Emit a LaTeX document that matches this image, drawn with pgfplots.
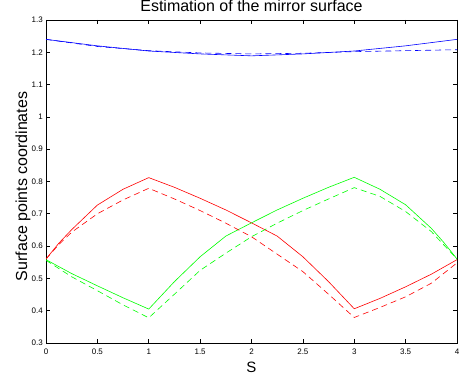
\documentclass[border=0pt]{standalone}
\usepackage{pgfplots}
\pgfplotsset{compat=1.18}
\usetikzlibrary{calc}
\usepackage{fontspec}
\setmainfont{Liberation Sans}
\definecolor{mred}{rgb}{1,0,0}
\definecolor{mgreen}{rgb}{0,1,0}
\definecolor{mblue}{rgb}{0,0,1}
\begin{document}
\begin{tikzpicture}
\begin{axis}[
  scale only axis,
  width=411bp, height=323bp,
  at={(0,0)}, anchor=south west,
  xmin=0, xmax=4, ymin=0.3, ymax=1.3,
  xtick={0,0.5,...,4},
  ytick={0.3,0.4,0.5,0.6,0.7,0.8,0.9,1,1.1,1.2,1.3},
  tick align=inside,
  xtick pos=both, ytick pos=both,
  xticklabel pos=bottom, yticklabel pos=left,
  major tick length=4bp,
  tick style={black, line width=0.6bp},
  axis line style={black, line width=0.8bp},
  /pgf/number format/assume math mode=true,
  /pgf/number format/fixed,
  ticklabel style={font=\fontsize{8bp}{9bp}\selectfont, inner sep=0pt},
  xticklabel style={anchor=north, yshift=-6bp},
  yticklabel style={anchor=east, xshift=-3bp},
  every axis title shift=0pt,
  title={Estimation of the mirror surface},
  title style={at={(axis description cs:0.5,1)}, anchor=base, yshift=8.5bp, font=\fontsize{16bp}{18bp}\selectfont, inner sep=0pt},
  xlabel={S},
  xlabel style={at={(axis description cs:0.5,0)}, anchor=base, yshift=-29bp, font=\fontsize{15bp}{17bp}\selectfont, inner sep=0pt},
  ylabel={Surface points coordinates},
  every axis y label/.style={at={($(axis description cs:0,0.4845)+(-19bp,0)$)}, anchor=base, rotate=90, font=\fontsize{16bp}{18bp}\selectfont, inner sep=0pt},
  clip=true,
]
% blue solid
\addplot[mblue, line width=0.6bp] coordinates {
(0,1.240) (0.5,1.220) (1,1.204) (1.5,1.195) (2,1.189) (2.5,1.195) (3,1.204) (3.5,1.220) (4,1.240)};
% red solid
\addplot[mred, line width=0.6bp] coordinates {
(0,0.560) (0.125,0.609) (0.25,0.651) (0.5,0.727) (0.75,0.776) (1,0.812)
(1.25,0.782) (1.5,0.748) (1.75,0.712) (2,0.672)
(2.25,0.631) (2.5,0.567) (2.75,0.490) (3,0.406)
(3.25,0.438) (3.5,0.474) (3.75,0.513) (4,0.558)};
% green solid
\addplot[mgreen, line width=0.6bp] coordinates {
(0,0.558) (0.25,0.515) (0.5,0.477) (0.75,0.440) (1,0.405)
(1.25,0.490) (1.5,0.567) (1.75,0.631) (2,0.672)
(2.25,0.712) (2.5,0.748) (2.75,0.782) (3,0.813)
(3.25,0.776) (3.5,0.728) (3.75,0.655) (3.875,0.610) (4,0.560)};
% blue dashed
\addplot[mblue, line width=0.6bp, dash pattern=on 6bp off 4bp] coordinates {
(0,1.240) (0.5,1.218) (1,1.205) (1.5,1.198) (2,1.195) (2.5,1.197) (3,1.202) (3.5,1.205) (4,1.208)};
% red dashed
\addplot[mred, line width=0.6bp, dash pattern=on 6bp off 4bp] coordinates {
(0,0.560) (0.125,0.605) (0.25,0.643) (0.5,0.700) (0.75,0.743) (1,0.779)
(1.25,0.746) (1.5,0.710) (1.75,0.671) (2,0.629)
(2.25,0.575) (2.5,0.521) (2.75,0.451) (3,0.379)
(3.25,0.410) (3.5,0.443) (3.75,0.485) (4,0.548)};
% green dashed
\addplot[mgreen, line width=0.6bp, dash pattern=on 6bp off 4bp] coordinates {
(0,0.556) (0.25,0.505) (0.5,0.462) (0.75,0.418) (1,0.378)
(1.25,0.451) (1.5,0.525) (1.75,0.578) (2,0.629)
(2.25,0.671) (2.5,0.710) (2.75,0.746) (3,0.781)
(3.25,0.754) (3.5,0.707) (3.75,0.645) (4,0.560)};
\end{axis}
\pgfresetboundingbox
\path[use as bounding box] (-46bp,-38bp) rectangle (419bp,343bp);
\end{tikzpicture}
\end{document}
